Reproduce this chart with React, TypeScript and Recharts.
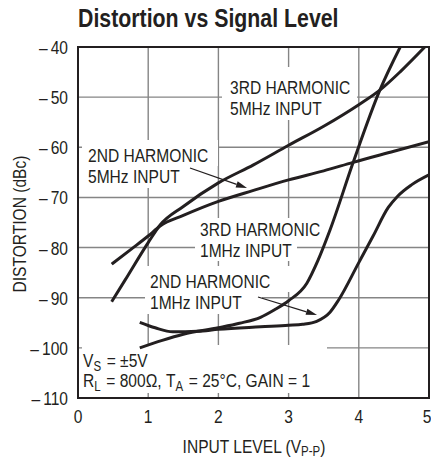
import React from "react";
import { LineChart, Line, XAxis, YAxis, CartesianGrid, ReferenceArea } from "recharts";

const FONT = "'Liberation Sans', Arial, sans-serif";
const INK = "#231f20";
const GRID = "#858585";
const NARROW = 0.82; // squeeze Liberation Sans to look like Helvetica Condensed

const xTicks = [0, 1, 2, 3, 4, 5];
const yTicks = [-110, -100, -90, -80, -70, -60, -50, -40];

// 3rd harmonic, 5MHz input
const h3_5X = [0.48, 0.67, 1.0, 1.17, 1.5, 2.0, 2.5, 3.0, 3.5, 4.0, 4.3, 4.6, 4.94];
const h3_5Y = [-90.8, -86.5, -79.0, -75.5, -71.8, -67.1, -63.5, -59.6, -55.8, -51.5, -48.6, -44.8, -40];

// 2nd harmonic, 5MHz input
const h2_5X = [0.48, 0.75, 1.0, 1.17, 1.5, 2.0, 2.5, 3.0, 3.5, 3.92, 4.5, 5.0];
const h2_5Y = [-83.3, -80.4, -77.7, -75.7, -73.6, -70.8, -68.6, -66.5, -64.7, -63.0, -60.8, -58.9];

// 3rd harmonic, 1MHz input
const h3_1X = [0.88, 1.2, 1.5, 2.0, 2.3, 2.6, 2.8, 3.0, 3.26, 3.42, 3.59, 3.92, 4.3, 4.59];
const h3_1Y = [-100.0, -98.5, -97.3, -96.0, -95.1, -93.9, -92.4, -90.6, -87.1, -82.5, -76.5, -63.0, -48.6, -40];

// 2nd harmonic, 1MHz input
const h2_1X = [0.88, 1.1, 1.35, 1.7, 2.0, 2.6, 3.0, 3.2, 3.4, 3.59, 3.71, 4.0, 4.2, 4.42, 4.55, 4.75, 5.0];
const h2_1Y = [-94.9, -96.0, -96.8, -96.7, -96.3, -95.8, -95.5, -95.3, -94.7, -92.9, -90.5, -83.0, -77.8, -72.0, -69.8, -67.5, -65.5];

const toData = (xs: number[], ys: number[]) => xs.map((x, i) => ({ x, y: ys[i] }));

const series = [
  toData(h3_5X, h3_5Y),
  toData(h2_5X, h2_5Y),
  toData(h3_1X, h3_1Y),
  toData(h2_1X, h2_1Y),
];

type NProps = {
  x: number;
  y: number;
  size?: number;
  anchor?: "start" | "middle" | "end";
  bold?: boolean;
  rotate?: number;
  children: React.ReactNode;
};

const NText = ({ x, y, size = 19, anchor = "start", bold, rotate = 0, children }: NProps) => (
  <text
    transform={`translate(${x} ${y}) rotate(${rotate}) scale(${NARROW} 1)`}
    textAnchor={anchor}
    fontFamily={FONT}
    fontSize={size}
    fontWeight={bold ? "bold" : "normal"}
    fill={INK}
  >
    {children}
  </text>
);

const YTick = (p: any) => (
  <NText x={p.x} y={p.y + 7} anchor="end">
    {String(p.payload.value).replace("-", "\u2013\u2009")}
  </NText>
);

const XTick = (p: any) => (
  <NText x={p.x} y={p.y + 25} anchor="middle">
    {p.payload.value}
  </NText>
);

const Arrow = ({ x1, y1, x2, y2 }: { x1: number; y1: number; x2: number; y2: number }) => {
  const a = Math.atan2(y2 - y1, x2 - x1);
  const L = 11, W = 3.2;
  const bx = x2 - L * Math.cos(a), by = y2 - L * Math.sin(a);
  const px = -Math.sin(a) * W, py = Math.cos(a) * W;
  return (
    <g>
      <line x1={x1} y1={y1} x2={bx} y2={by} stroke={INK} strokeWidth={1.3} />
      <polygon points={`${x2},${y2} ${bx + px},${by + py} ${bx - px},${by - py}`} fill={INK} />
    </g>
  );
};

const Sub = ({ children }: { children: string }) => (
  <>
    <tspan dy={4} fontSize={14}>{children}</tspan>
    <tspan dy={-4}>{"\u200a"}</tspan>
  </>
);

const Annotations = () => (
  <g>
    {/* white patches behind the notes */}
    <rect x={222} y={67} width={135} height={32} fill="#fff" />
    <rect x={222} y={99} width={108} height={21} fill="#fff" />
    <rect x={82} y={140} width={136} height={26} fill="#fff" />
    <rect x={82} y={166} width={108} height={22} fill="#fff" />
    <rect x={195} y={218} width={132} height={22} fill="#fff" />
    <rect x={195} y={240} width={102} height={21} fill="#fff" />
    <rect x={145} y={266} width={151} height={26} fill="#fff" />
    <rect x={145} y={292} width={117} height={22} fill="#fff" />
    <rect x={82} y={345} width={245} height={48} fill="#fff" />

    <NText x={230} y={94}>3RD HARMONIC</NText>
    <NText x={230} y={115}>5MHz INPUT</NText>
    <NText x={88} y={162}>2ND HARMONIC</NText>
    <NText x={88} y={183}>5MHz INPUT</NText>
    <NText x={200} y={236}>3RD HARMONIC</NText>
    <NText x={200} y={257}>1MHz INPUT</NText>
    <NText x={150} y={288}>2ND HARMONIC</NText>
    <NText x={150} y={309}>1MHz INPUT</NText>
    <NText x={83} y={367}>
      V<Sub>S</Sub> = ±5V
    </NText>
    <NText x={83} y={387}>
      R<Sub>L</Sub> = 800Ω, T<Sub>A</Sub> = 25°C, GAIN = 1
    </NText>

    <Arrow x1={190} y1={168} x2={247} y2={188} />
    <Arrow x1={258} y1={297} x2={317} y2={315} />

    <NText x={78} y={27} size={26} bold>
      Distortion vs Signal Level
    </NText>
    <NText x={26} y={224} rotate={-90} anchor="middle">
      DISTORTION (dBc)
    </NText>
    <NText x={254} y={453} anchor="middle">
      INPUT LEVEL (V<tspan dy={3} fontSize={14}>P-P</tspan><tspan dy={-3}>)</tspan>
    </NText>
  </g>
);

export default function App() {
  return (
    <div style={{ position: "absolute", left: 0, top: 0, width: 431, height: 458, background: "#fff" }}>
      <LineChart width={431} height={458} margin={{ top: 47, right: 2, bottom: 0, left: 0 }}>
        <CartesianGrid stroke={GRID} strokeWidth={1.4} />
        <XAxis
          dataKey="x"
          type="number"
          domain={[0, 5]}
          ticks={xTicks}
          axisLine={false}
          tickLine={false}
          tickSize={0}
          tickMargin={0}
          height={60}
          tick={XTick}
          allowDataOverflow
        />
        <YAxis
          type="number"
          domain={[-110, -40]}
          ticks={yTicks}
          axisLine={false}
          tickLine={false}
          tickSize={0}
          tickMargin={10}
          width={78}
          tick={YTick}
          allowDataOverflow
        />
        <Annotations />
        {series.map((d, i) => (
          <Line
            key={i}
            data={d}
            dataKey="y"
            type="monotone"
            stroke={INK}
            strokeWidth={3}
            dot={false}
            activeDot={false}
            isAnimationActive={false}
          />
        ))}
        <ReferenceArea x1={0} x2={5} y1={-110} y2={-40} fill="none" stroke={INK} strokeWidth={2} ifOverflow="visible" />
      </LineChart>
    </div>
  );
}
